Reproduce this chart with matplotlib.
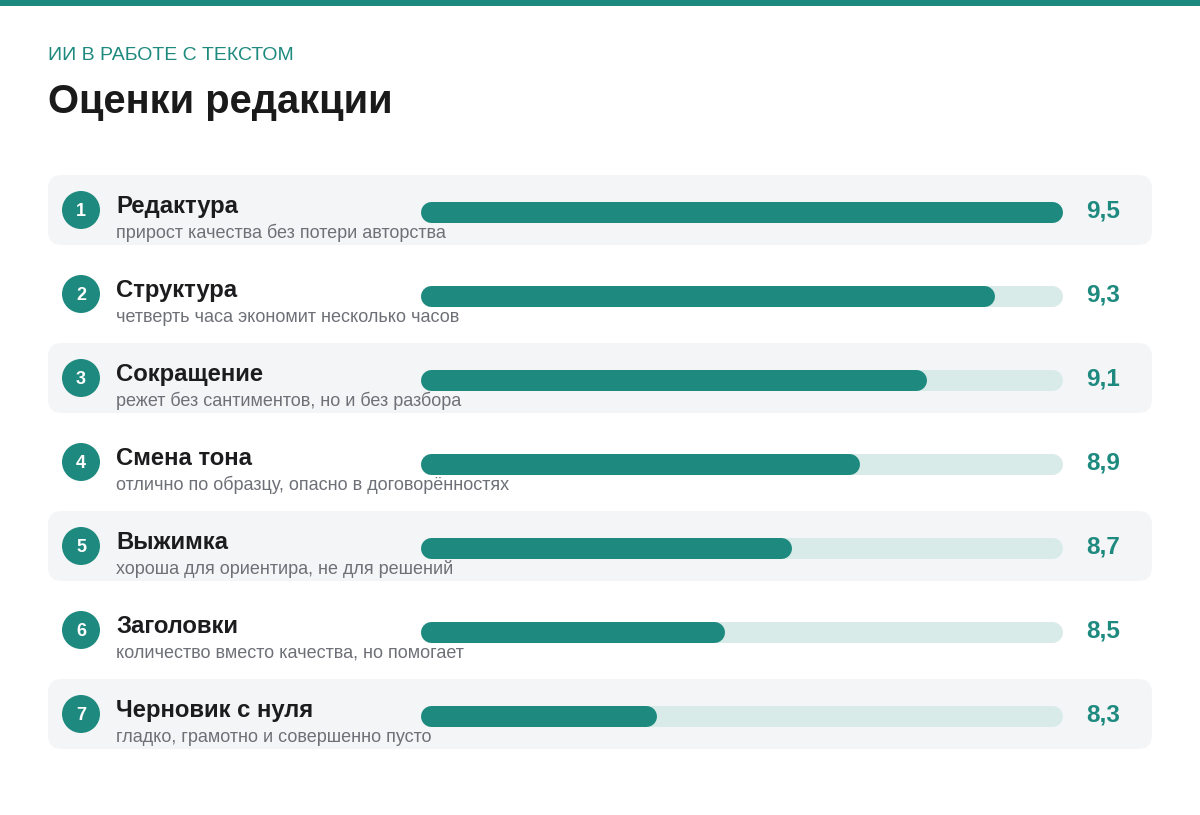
import matplotlib
matplotlib.use("Agg")
import matplotlib.pyplot as plt
from matplotlib.patches import FancyBboxPatch, Circle, Rectangle

plt.rcParams['font.family'] = ['Liberation Sans', 'DejaVu Sans']

# data
names = ["Редактура", "Структура", "Сокращение", "Смена тона",
         "Выжимка", "Заголовки", "Черновик с нуля"]
notes = ["прирост качества без потери авторства",
         "четверть часа экономит несколько часов",
         "режет без сантиментов, но и без разбора",
         "отлично по образцу, опасно в договорённостях",
         "хороша для ориентира, не для решений",
         "количество вместо качества, но помогает",
         "гладко, грамотно и совершенно пусто"]
scores = [9.5, 9.3, 9.1, 8.9, 8.7, 8.5, 8.3]
scale_min, scale_max = 7.6, 9.5

teal = "#1e8a7f"
track = "#d9ebe8"
row_bg = "#f4f5f7"

W, H = 1200, 815
fig = plt.figure(figsize=(12, 8.15), dpi=100)
fig.patch.set_facecolor("white")

# page axes in pixel units
ax = fig.add_axes([0, 0, 1, 1])
ax.set_xlim(0, W)
ax.set_ylim(H, 0)
ax.set_axis_off()

# bar axes: value scale across the track area
bx_left, bx_w = 420, 642
bx = fig.add_axes([bx_left / W, 0, bx_w / W, 1])
bx.set_xlim(scale_min, scale_max)
bx.set_ylim(H, 0)
bx.set_axis_off()
bx.patch.set_alpha(0)

ax.add_patch(Rectangle((0, 0), W, 6, color=teal, lw=0))
ax.text(48, 55, "ИИ В РАБОТЕ С ТЕКСТОМ", color=teal, fontsize=14,
        va="center", ha="left")
ax.text(48, 113, "Оценки редакции", color="#1a1a1a", fontsize=28.7,
        fontweight="bold", va="baseline", ha="left")

bar_h = 21  # px
cap = bar_h / 2 / bx_w * (scale_max - scale_min)
lw_pt = bar_h * 72 / 100

for i, (name, note, s) in enumerate(zip(names, notes, scores)):
    c = 210 + 84 * i
    if i % 2 == 0:
        ax.add_patch(FancyBboxPatch((48 + 14, c - 35 + 14), 1104 - 28, 70 - 28,
                                    boxstyle="round,pad=14", fc=row_bg, ec="none"))
    ax.add_patch(Circle((81, c), 19, color=teal, lw=0))
    ax.text(81, c + 1, str(i + 1), color="white", fontsize=13,
            fontweight="bold", ha="center", va="center")
    ax.text(116, c + 3, name, color="#1c1c1e", fontsize=17.2,
            fontweight="bold", ha="left", va="baseline")
    ax.text(116, c + 28, note, color="#6e7077", fontsize=13,
            ha="left", va="baseline")
    yb = c + 1.5
    bx.plot([scale_min + cap, scale_max - cap], [yb, yb], color=track,
            lw=lw_pt, solid_capstyle="round", clip_on=False)
    bx.plot([scale_min + cap, s - cap], [yb, yb], color=teal,
            lw=lw_pt, solid_capstyle="round", clip_on=False)
    ax.text(1086, c + 1, f"{s:.1f}".replace(".", ","), color=teal,
            fontsize=17.5, fontweight="bold", ha="left", va="center")

fig.savefig("out.png", dpi=100, facecolor="white")
